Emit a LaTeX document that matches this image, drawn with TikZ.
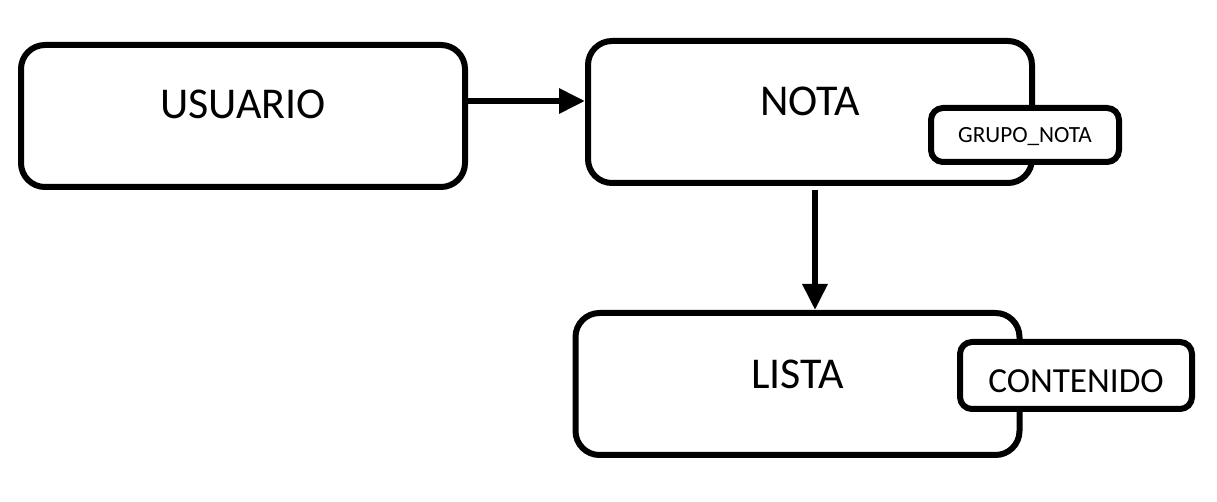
\documentclass[tikz,border=0pt]{standalone}
\usepackage{fontspec}
\setmainfont{Carlito}
\usepackage{tikz}
\usetikzlibrary{calc,shapes,positioning}
\usetikzlibrary{arrows.meta}
\tikzset{>={Triangle[width=12pt,length=13pt]}}

\begin{document}
\begin{tikzpicture}[x=0.5pt,y=-0.5pt]
        \useasboundingbox (0,0) rectangle (1217,502);

          \tikzstyle{caja} = [line width=3pt, draw=black, fill=white, rectangle, rounded corners = 12pt, minimum width=222pt, minimum height=71pt, inner sep=0pt]
          \tikzstyle{sub} = [line width=3pt, draw=black, fill=white, rectangle, rounded corners = 6pt, inner sep=0pt]
          \tikzstyle{tgrande} = [font=\fontsize{22}{26}\selectfont, inner sep=0pt]
          \tikzstyle{flecha} = [->, line width=3pt]

          \node[caja] (usuario) at (243,116) {};
          \node[caja] (nota) at (810,112) {};
          \node[caja] (lista) at (797.5,384) {};

          \node[tgrande] (tusuario) at (243,104) {USUARIO};
          \node[tgrande] (tnota) at (810,101) {NOTA};
          \node[tgrande] (tlista) at (797.5,374) {LISTA};

          \node[sub, minimum width=94pt, minimum height=27pt] (grupo) at (1025,135) {};
          \node[inner sep=0pt, font=\fontsize{11.6}{13}\selectfont] (tgrupo) at (1025,137) {GRUPO\_NOTA};

          \node[sub, minimum width=116pt, minimum height=33.5pt] (contenido) at (1076,375.5) {};
          \node[inner sep=0pt, font=\fontsize{17.6}{20}\selectfont] (tcontenido) at (1076,381) {CONTENIDO};

          \draw[flecha] ([yshift=7.5pt]usuario.east) -- ([yshift=7.5pt]usuario.east -| nota.west);
          \draw[flecha] ([xshift=2.5pt,yshift=-2pt]nota.south) -- ([xshift=2.5pt]nota.south |- lista.north);

      \end{tikzpicture}
\end{document}
